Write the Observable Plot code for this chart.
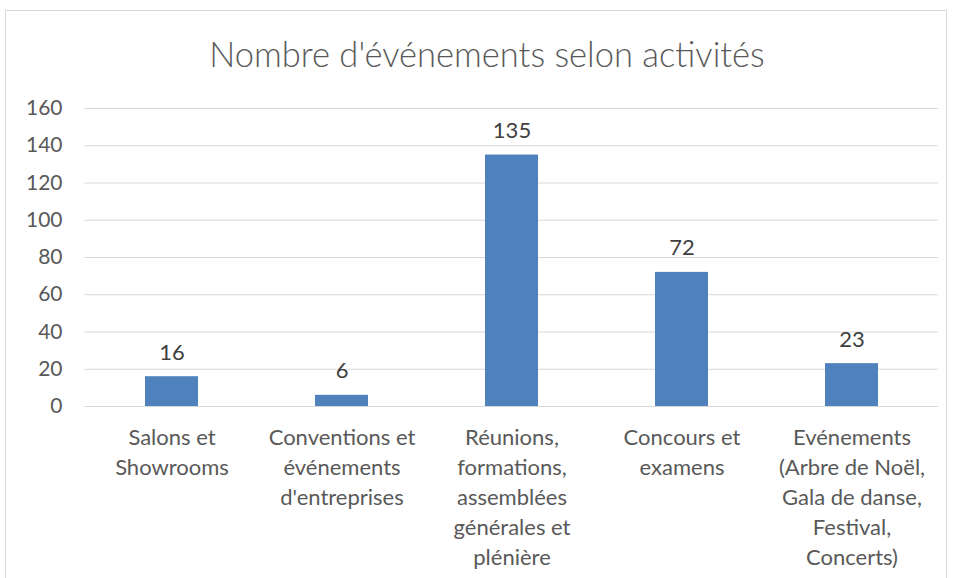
<!DOCTYPE html>
<html>
<head>
<meta charset="utf-8">
<script src="https://cdn.jsdelivr.net/npm/d3@7"></script>
<script src="https://cdn.jsdelivr.net/npm/@observablehq/plot@0.6"></script>
<style>
  html, body { margin: 0; padding: 0; background: #fff; }
  #frame {
    position: absolute; left: 5px; top: 10px; width: 942px; height: 580px;
    border: 1px solid #d9d9d9; box-sizing: border-box; overflow: hidden;
    font-family: Lato, "Open Sans", sans-serif; color: #595959;
  }
  #title {
    height: 79px; line-height: 1; padding-top: 26px; padding-left: 22px; box-sizing: border-box;
    text-align: center; font-size: 34.5px; font-weight: 300; color: #595959;
  }
  svg { display: block; }
</style>
</head>
<body>
<div id="frame">
  <div id="title">Nombre d'événements selon activités</div>
  <div id="chart"></div>
</div>
<script>
const categories = [
  "Salons et\nShowrooms",
  "Conventions et\névénements\nd'entreprises",
  "Réunions,\nformations,\nassemblées\ngénérales et\nplénière",
  "Concours et\nexamens",
  "Evénements\n(Arbre de Noël,\nGala de danse,\nFestival,\nConcerts)"
];
const values = [16, 6, 135, 72, 23];
const yTicks = [0, 20, 40, 60, 80, 100, 120, 140, 160];

const data = categories.map((c, i) => ({category: c, value: values[i]}));

const chart = Plot.plot({
  width: 940,
  height: 488,
  marginLeft: 78,
  marginRight: 8,
  marginTop: 18,
  marginBottom: 172,
  style: {fontFamily: "Lato, 'Open Sans', sans-serif", fontSize: "21px", color: "#595959", background: "transparent"},
  x: {domain: categories, paddingInner: 0.69, paddingOuter: 0.345, label: null},
  y: {domain: [0, 160], ticks: yTicks, label: null},
  marks: [
    Plot.gridY(yTicks, {stroke: "#d9d9d9", strokeOpacity: 1, strokeWidth: 1}),
    Plot.barY(data, {x: "category", y: "value", fill: "#4f81bd"}),
    Plot.text(data, {x: "category", y: "value", text: d => String(d.value), lineAnchor: "bottom", dy: -17, fill: "#404040", fontSize: 22}),
    Plot.axisY({ticks: yTicks, tickSize: 0, tickPadding: 22, fill: "#595959", fontSize: 21}),
    Plot.axisX({tickSize: 0, tickPadding: 17, lineHeight: 1.364, fill: "#595959", fontSize: 22})
  ]
});
document.getElementById("chart").appendChild(chart);
</script>
</body>
</html>
